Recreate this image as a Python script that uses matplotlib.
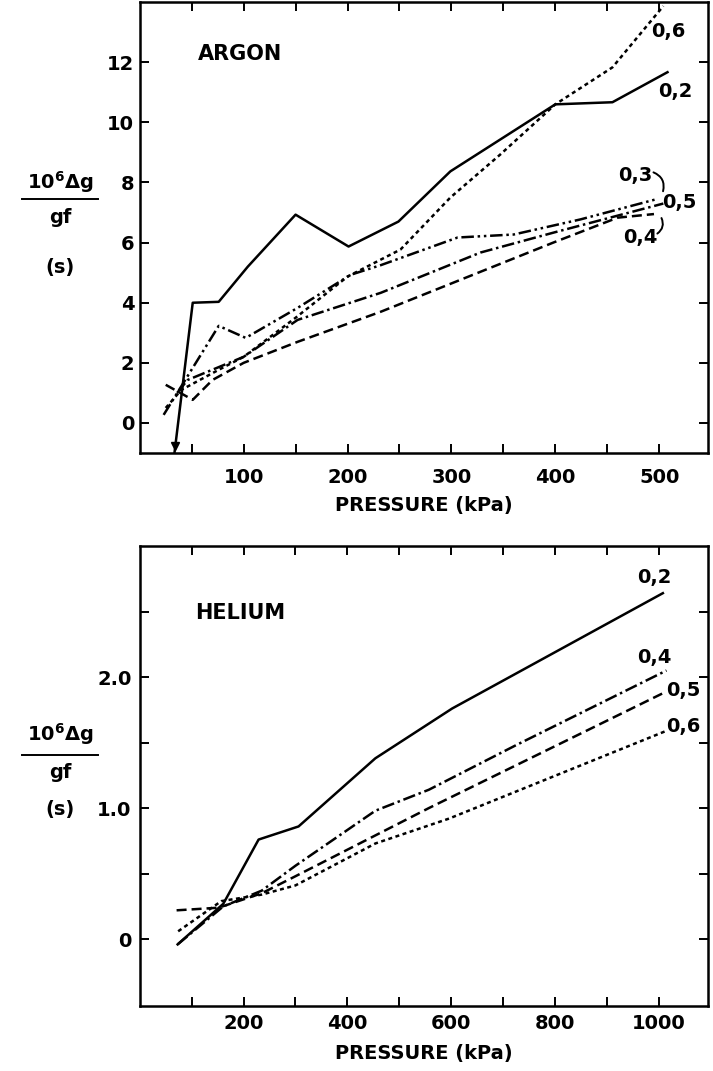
import matplotlib
matplotlib.use('Agg')
import matplotlib.pyplot as plt
from matplotlib.lines import Line2D

plt.rcParams['font.family'] = ['DejaVu Sans']
plt.rcParams['font.weight'] = 'bold'
plt.rcParams['mathtext.fontset'] = 'dejavusans'
plt.rcParams['mathtext.default'] = 'bf'

# ARGON (kPa, 10^6 dg/gf in s)
ar_p02 = [32, 51, 76, 104, 150, 201, 249, 299, 400, 455, 508]
ar_v02 = [-1.4, 4.0, 4.03, 5.2, 6.93, 5.87, 6.7, 8.37, 10.6, 10.67, 11.67]
ar_p03 = [23, 76, 102, 152, 203, 232, 306, 360, 424, 498]
ar_v03 = [0.27, 3.23, 2.83, 3.83, 4.93, 5.25, 6.17, 6.27, 6.77, 7.45]
ar_p04 = [36, 46, 100, 152, 232, 328, 398, 504]
ar_v04 = [1.0, 1.43, 2.2, 3.43, 4.33, 5.67, 6.33, 7.3]
ar_p05 = [25, 51, 70, 100, 152, 232, 328, 398, 460, 495]
ar_v05 = [1.27, 0.77, 1.43, 2.0, 2.7, 3.7, 5.03, 6.0, 6.83, 6.95]
ar_p06 = [25, 40, 75, 100, 150, 200, 251, 299, 347, 400, 455, 504]
ar_v06 = [0.5, 1.1, 1.75, 2.2, 3.5, 4.87, 5.77, 7.5, 8.93, 10.6, 11.83, 13.87]

# HELIUM
he_p02 = [73, 161, 229, 306, 454, 602, 1008]
he_v02 = [-0.04, 0.27, 0.76, 0.86, 1.38, 1.76, 2.64]
he_p04 = [73, 161, 235, 300, 454, 557, 725, 1015]
he_v04 = [-0.04, 0.25, 0.37, 0.56, 0.98, 1.14, 1.48, 2.05]
he_p05 = [71, 152, 235, 300, 557, 1015]
he_v05 = [0.22, 0.24, 0.35, 0.48, 1.0, 1.89]
he_p06 = [74, 157, 235, 300, 454, 596, 1015]
he_v06 = [0.06, 0.29, 0.34, 0.41, 0.73, 0.92, 1.59]

ar_xticks = [100, 200, 300, 400, 500]
ar_xminor = [50, 150, 250, 350, 450]
ar_yticks = [0, 2, 4, 6, 8, 10, 12]
he_xticks = [200, 400, 600, 800, 1000]
he_xminor = [100, 300, 500, 700, 900]
he_yticks = [0, 1, 2]
he_ylabels = ['0', '1.0', '2.0']
he_yminor = [0.5, 1.5, 2.5]

LW = 1.8
FS = 14
styles = {
    '0.2': dict(ls='-'),
    '0.3': dict(dashes=(5, 1.5, 1, 1.5, 1, 1.5)),
    '0.4': dict(dashes=(5, 1.5, 1, 1.5)),
    '0.5': dict(dashes=(4, 2)),
    '0.6': dict(dashes=(1.6, 1.4)),
}

fig = plt.figure(figsize=(7.13, 10.71), dpi=100)
ax1 = fig.add_axes([0.196, 0.577, 0.797, 0.421])
ax2 = fig.add_axes([0.196, 0.0607, 0.797, 0.4295])


def style_axes(ax):
    for s in ax.spines.values():
        s.set_linewidth(1.8)
    ax.tick_params(which='both', direction='in', top=True, right=True,
                   length=6.5, width=1.4, labelsize=FS)


# top panel
ax1.plot(ar_p02, ar_v02, color='black', lw=LW, **styles['0.2'])
ax1.plot(ar_p03, ar_v03, color='black', lw=LW, **styles['0.3'])
ax1.plot(ar_p04, ar_v04, color='black', lw=LW, **styles['0.4'])
ax1.plot(ar_p05, ar_v05, color='black', lw=LW, **styles['0.5'])
ax1.plot(ar_p06, ar_v06, color='black', lw=LW, **styles['0.6'])
ax1.plot([34], [-0.75], marker='v', color='black', ms=6)
ax1.set_xlim(0, 547)
ax1.set_ylim(-1, 14)
ax1.set_xticks(ar_xticks)
ax1.set_xticks(ar_xminor, minor=True)
ax1.set_yticks(ar_yticks)
style_axes(ax1)
ax1.tick_params(axis='x', pad=11)
ax1.tick_params(axis='y', pad=4)
ax1.set_xlabel('PRESSURE (kPa)', fontsize=FS, fontweight='bold', labelpad=6)
ax1.text(56, 12.27, 'ARGON', fontsize=15, va='center', ha='left')
ax1.text(509, 13.03, '0,6', fontsize=FS, ha='center', va='center')
ax1.text(516, 11.03, '0,2', fontsize=FS, ha='center', va='center')
ax1.text(477, 8.23, '0,3', fontsize=FS, ha='center', va='center')
ax1.text(519, 7.33, '0,5', fontsize=FS, ha='center', va='center')
ax1.text(482, 6.17, '0,4', fontsize=FS, ha='center', va='center')
ax1.annotate('', xy=(503, 7.62), xytext=(492, 8.37),
             arrowprops=dict(arrowstyle='-', lw=1.4, color='black',
                             connectionstyle='arc3,rad=-0.5'))
ax1.annotate('', xy=(501, 6.9), xytext=(496, 6.25),
             arrowprops=dict(arrowstyle='-', lw=1.4, color='black',
                             connectionstyle='arc3,rad=0.5'))

# bottom panel
ax2.plot(he_p02, he_v02, color='black', lw=LW, **styles['0.2'])
ax2.plot(he_p04, he_v04, color='black', lw=LW, **styles['0.4'])
ax2.plot(he_p05, he_v05, color='black', lw=LW, **styles['0.5'])
ax2.plot(he_p06, he_v06, color='black', lw=LW, **styles['0.6'])
ax2.set_xlim(0, 1095)
ax2.set_ylim(-0.51, 3.0)
ax2.set_xticks(he_xticks)
ax2.set_xticks(he_xminor, minor=True)
ax2.set_yticks(he_yticks)
ax2.set_yticklabels(he_ylabels)
ax2.set_yticks(he_yminor, minor=True)
style_axes(ax2)
ax2.tick_params(axis='x', pad=6)
ax2.tick_params(axis='y', pad=6)
ax2.set_xlabel('PRESSURE (kPa)', fontsize=FS, fontweight='bold', labelpad=8)
ax2.text(107, 2.49, 'HELIUM', fontsize=15, va='center', ha='left')
ax2.text(992, 2.76, '0,2', fontsize=FS, ha='center', va='center')
ax2.text(992, 2.15, '0,4', fontsize=FS, ha='center', va='center')
ax2.text(1048, 1.9, '0,5', fontsize=FS, ha='center', va='center')
ax2.text(1048, 1.62, '0,6', fontsize=FS, ha='center', va='center')


# y axis fraction labels
def frac_label(y_num, y_line, y_den, y_unit):
    fig.text(60 / 713, 1 - y_num / 1071, r'10$^{6}$Δg', fontsize=FS,
             ha='center', va='center')
    fig.add_artist(Line2D([22 / 713, 98 / 713], [1 - y_line / 1071] * 2,
                          color='black', lw=1.4))
    fig.text(60 / 713, 1 - y_den / 1071, 'gf', fontsize=FS,
             ha='center', va='center')
    fig.text(60 / 713, 1 - y_unit / 1071, '(s)', fontsize=FS,
             ha='center', va='center')


frac_label(182, 199, 218, 268)
frac_label(734, 755, 772, 810)

fig.savefig('out.png', dpi=100)
